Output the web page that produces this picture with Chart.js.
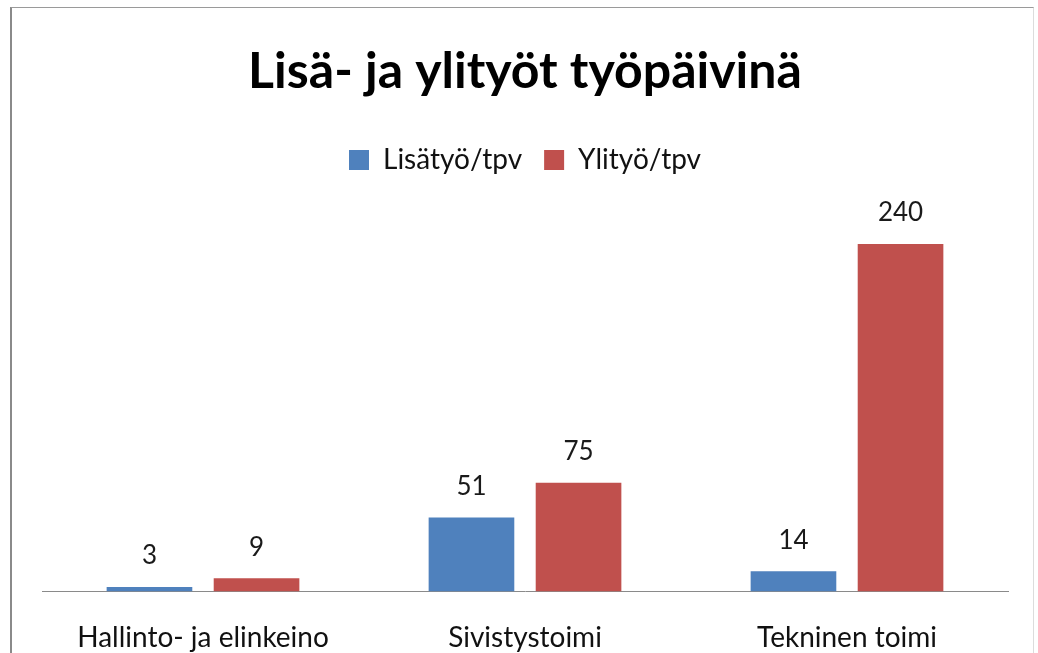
<!DOCTYPE html>
<html>
<head>
<meta charset="utf-8">
<script src="https://cdn.jsdelivr.net/npm/chart.js@4.4.1/dist/chart.umd.min.js"></script>
<style>
  html,body{margin:0;padding:0;background:#fff;width:1038px;height:653px;overflow:hidden;}
  #frame{position:absolute;left:10px;top:7px;width:1021px;height:660px;border-left:2px solid #8a8a8a;border-top:1px solid #9a9a9a;border-right:1px solid #dcdcdc;}
  #wrap{position:absolute;left:0;top:0;width:1038px;height:677px;}
</style>
</head>
<body>
<div id="frame"></div>
<div id="wrap"><canvas id="c" width="1038" height="677"></canvas></div>
<script>
const categories = ["Hallinto- ja elinkeino", "Sivistystoimi", "Tekninen toimi"];
const seriesNames = ["Lisätyö/tpv", "Ylityö/tpv"];
const lisatyo = [3, 51, 14];
const ylityo = [9, 75, 240];
const titleText = "Lisä- ja ylityöt työpäivinä";

const FONT = "Lato, 'Open Sans', sans-serif";

const valueLabels = {
  id: 'valueLabels',
  afterDatasetsDraw(chart) {
    const ctx = chart.ctx;
    ctx.save();
    ctx.font = "26px " + FONT;
    ctx.fillStyle = "#1a1a1a";
    ctx.textAlign = "center";
    ctx.textBaseline = "middle";
    chart.data.datasets.forEach((ds, i) => {
      const meta = chart.getDatasetMeta(i);
      meta.data.forEach((bar, j) => {
        ctx.fillText(String(ds.data[j]), bar.x, bar.y - 31);
      });
    });
    ctx.restore();
  }
};

const chart = new Chart(document.getElementById('c'), {
  type: 'bar',
  data: {
    labels: categories,
    datasets: [
      { label: seriesNames[0], data: lisatyo, backgroundColor: '#4F81BD', categoryPercentage: 0.665, barPercentage: 0.80 },
      { label: seriesNames[1], data: ylityo, backgroundColor: '#C0504D', categoryPercentage: 0.665, barPercentage: 0.80 }
    ]
  },
  options: {
    responsive: false,
    animation: false,
    layout: { padding: { left: 42, right: 30, top: 42, bottom: 0 } },
    plugins: {
      title: { display: true, text: titleText, color: '#000', font: { family: FONT, size: 50, weight: 'bold' }, padding: { top: 0, bottom: 22 } },
      legend: { display: true, position: 'top', labels: { color: '#111', font: { family: FONT, size: 28 }, boxWidth: 20, boxHeight: 20, padding: 22 } },
      tooltip: { enabled: false }
    },
    scales: {
      x: {
        grid: { display: false },
        border: { display: true, color: '#8a8a8a', width: 1 },
        ticks: { color: '#111', font: { family: FONT, size: 28 }, padding: 22, maxRotation: 0 }
      },
      y: { display: false, min: 0, max: 281.5 }
    }
  },
  plugins: [valueLabels]
});
</script>
</body>
</html>
